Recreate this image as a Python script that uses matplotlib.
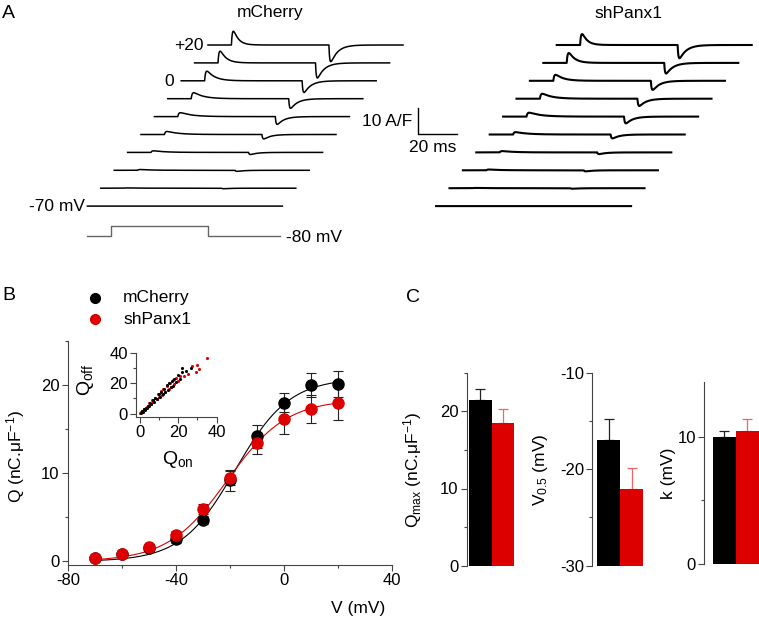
import numpy as np
import matplotlib
matplotlib.use("Agg")
from matplotlib import pyplot as plt
from matplotlib.ticker import MultipleLocator

plt.rcParams['font.family'] = ['Liberation Sans', 'DejaVu Sans']
plt.rcParams['mathtext.fontset'] = 'custom'
plt.rcParams['mathtext.rm'] = 'Liberation Sans'
plt.rcParams['mathtext.it'] = 'Liberation Sans:italic'
plt.rcParams['axes.unicode_minus'] = False

# ---- data ----
groups = ['mCherry', 'shPanx1']
test_mv = [20, 10, 0, -10, -20, -30, -40, -50, -60, -70]

# panel A: transient amplitudes (A/F) per trace, top (+20) to bottom (-70)
on_amp_mch = [5.3, 4.5, 3.7, 2.3, 1.5, 1.15, 0.6, 0.3, 0.1, 0.0]
off_amp_mch = [6.4, 5.8, 4.5, 3.7, 3.0, 1.7, 0.8, 0.4, 0.2, 0.0]
on_amp_sh = [4.2, 3.8, 2.3, 1.9, 1.5, 0.9, 0.5, 0.3, 0.1, 0.0]
off_amp_sh = [5.1, 4.1, 3.5, 2.8, 2.6, 1.5, 0.65, 0.4, 0.2, 0.0]
tau_on = [2.5, 3.0, 4.0, 5.0, 6.0, 6.0, 6.0, 6.0, 6.0, 6.0]   # ms
tau_off = 3.5                                                 # ms
trace_ms = 100
step_on, step_off = 12, 62

# panel B: charge-voltage
volts = [-70, -60, -50, -40, -30, -20, -10, 0, 10, 20]
q_mch = [0.4, 0.8, 1.5, 2.5, 4.7, 9.2, 14.2, 18.0, 20.0, 20.15]
q_mch_err = [0.2, 0.2, 0.3, 0.4, 0.5, 1.2, 1.3, 1.1, 1.4, 1.5]
q_sh = [0.35, 0.8, 1.6, 3.0, 5.95, 9.5, 13.4, 16.2, 17.25, 18.0]
q_sh_err = [0.2, 0.2, 0.3, 0.4, 0.55, 0.8, 1.2, 1.7, 1.6, 2.0]
fit_mch = dict(qmax=20.8, vhalf=-18.0, k=10.0)
fit_sh = dict(qmax=18.4, vhalf=-21.0, k=11.0)

# inset: Qoff vs Qon
qon_mch = [0.5, 1, 1.5, 2, 2.5, 3, 3.5, 4, 5, 5.5, 6, 7, 7.5, 8, 9, 10, 10.5, 11,
           12, 12.5, 13, 14, 14.5, 15, 16, 16.5, 17, 18, 19, 20, 21, 22, 22, 24, 26.4]
qoff_mch = [0.4, 1.5, 1.3, 2.8, 2.4, 3.9, 3.4, 5.3, 5.2, 7.0, 6.3, 9.2, 7.9, 10.5,
            9.8, 13.2, 11.2, 14.0, 12.9, 16.5, 13.9, 18.8, 15.5, 19.8, 17.2, 21.5,
            18.4, 22.5, 21.0, 25.5, 22.8, 27.5, 30.0, 28.0, 30.1]
qon_sh = [0.3, 0.8, 1.3, 2, 3, 3.5, 4.5, 5, 6, 6.5, 7, 8, 9, 9.5, 10, 11, 11.5, 12,
          13, 14, 15, 15.5, 16, 17, 18, 19, 20, 21, 23, 25, 27, 29, 30, 31, 34.7]
qoff_sh = [0.5, 0.9, 1.5, 2.9, 3.4, 4.6, 5.0, 6.8, 6.6, 8.8, 7.6, 10.6, 9.8, 12.6,
           10.9, 14.6, 12.4, 16.2, 14.0, 18.2, 16.0, 20.4, 17.2, 21.8, 19.4, 23.6,
           21.5, 24.6, 24.6, 26.0, 31.0, 27.3, 32.0, 29.0, 36.7]

# panel C: fit parameters (mean, sem)
qmax_mean = [21.4, 18.5]
qmax_sem = [1.5, 1.85]
vhalf_mean = [-17.0, -22.0]
vhalf_sem = [2.2, 2.15]
k_mean = [10.0, 10.47]
k_sem = [0.45, 0.9]

BLACK = '#000000'
RED = '#dd0000'
RED_ERR = '#ee6666'
AXC = '#444444'

W, H = 759, 619
fig = plt.figure(figsize=(W / 100, H / 100), dpi=100)


def add_ax(l, t, r, b):
    return fig.add_axes([l / W, 1 - b / H, (r - l) / W, (b - t) / H])


def ftext(x, y, s, **kw):
    kw.setdefault('fontsize', 12.5)
    kw.setdefault('va', 'center')
    fig.text(x / W, 1 - y / H, s, **kw)


def boltz(v, qmax, vhalf, k):
    return qmax / (1 + np.exp((vhalf - v) / k))


# ---- panel A: gating current traces ----
PX_MS, PX_AF = 1.95, 2.6
axA = add_ax(0, 0, W, 250)
axA.set_xlim(0, W / PX_MS)
axA.set_ylim(0, 250 / PX_AF)
axA.axis('off')

t = np.linspace(0, trace_ms, 3001)


def kinetic(d, tau, rise):
    g = np.where(d > 0, np.exp(-d / tau) - np.exp(-d / rise), 0.0)
    return g / g.max() if g.max() > 0 else g


def make_trace(a_on, a_off, ton):
    return (a_on * kinetic(t - step_on, ton, 0.5)
            - a_off * kinetic(t - step_off, tau_off, 0.4))


dx_ms, dy_af = -13.4 / PX_MS, -17.9 / PX_AF
base_top = (250 - 45) / PX_AF
for x0, on_a, off_a, lw in [(208 / PX_MS, on_amp_mch, off_amp_mch, 1.1),
                             (556.7 / PX_MS, on_amp_sh, off_amp_sh, 1.5)]:
    for i in range(len(test_mv)):
        y = make_trace(on_a[i], off_a[i], tau_on[i])
        axA.plot(x0 + i * dx_ms + t, base_top + i * dy_af + y, color=BLACK, lw=lw)

# voltage protocol
px0 = 208 / PX_MS + 9 * dx_ms
lo, hi = (250 - 236) / PX_AF, (250 - 226) / PX_AF
axA.plot(px0 + np.array([0, step_on, step_on, step_off, step_off, trace_ms - 1]),
         [lo, lo, hi, hi, lo, lo], color='#666666', lw=1.0)

# scale bar
sb_x, sb_y = 417.7 / PX_MS, (250 - 134.3) / PX_AF
axA.plot([sb_x, sb_x, sb_x + 20], [sb_y + 10, sb_y, sb_y], color=BLACK, lw=1.0)

ftext(2, 14, 'A', fontsize=14)
ftext(270, 13, 'mCherry', ha='center')
ftext(628, 13, 'shPanx1', ha='center')
ftext(204, 45, '+20', ha='right')
ftext(174, 81, '0', ha='right')
ftext(85, 206, '-70 mV', ha='right')
ftext(286, 237, '-80 mV', ha='left')
ftext(412, 121, '10 A/F', ha='right')
ftext(433, 148, '20 ms', ha='center')


def style(ax, bottom=True):
    for s in ['top', 'right']:
        ax.spines[s].set_visible(False)
    if not bottom:
        ax.spines['bottom'].set_visible(False)
        ax.tick_params(axis='x', which='both', bottom=False, labelbottom=False)
    for s in ['left', 'bottom']:
        ax.spines[s].set_color(AXC)
        ax.spines[s].set_linewidth(0.8)
    ax.tick_params(which='major', direction='out', length=4, width=0.8,
                   color=AXC, labelsize=12, pad=2)
    ax.tick_params(which='minor', direction='out', length=2.5, width=0.8, color=AXC)


# ---- panel B: Q-V ----
axB = add_ax(68, 341, 392, 565)
axB.set_xlim(-80, 40)
axB.set_ylim(-0.4, 25)
style(axB)
axB.xaxis.set_major_locator(MultipleLocator(40))
axB.xaxis.set_minor_locator(MultipleLocator(20))
axB.yaxis.set_major_locator(MultipleLocator(10))
axB.yaxis.set_minor_locator(MultipleLocator(5))

vv = np.linspace(-70, 20, 200)
axB.plot(vv, boltz(vv, **fit_mch), color=BLACK, lw=0.8, zorder=2)
axB.plot(vv, boltz(vv, **fit_sh), color=RED, lw=0.8, zorder=2)
axB.errorbar(volts, q_mch, yerr=q_mch_err, fmt='none', ecolor='#222222',
             elinewidth=0.8, capsize=3.5, capthick=0.8, zorder=3)
axB.errorbar(volts, q_sh, yerr=q_sh_err, fmt='none', ecolor='#222222',
             elinewidth=0.8, capsize=3.5, capthick=0.8, zorder=3)
axB.plot(volts, q_mch, 'o', color=BLACK, ms=8, zorder=4)
axB.plot(volts, q_sh, 'o', color=RED, ms=8, zorder=5)

ftext(2, 296, 'B', fontsize=14)
legend_ax = add_ax(0, 280, W, 340)
legend_ax.set_xlim(0, W)
legend_ax.set_ylim(340, 280)
legend_ax.axis('off')
legend_ax.plot([95], [298], 'o', color=BLACK, ms=7)
legend_ax.plot([95], [319], 'o', color=RED, ms=7)
ftext(123, 298, groups[0])
ftext(123, 319, groups[1])
ftext(16, 457, 'Q (nC.\u03bcF$^{-1}$)', rotation=90, ha='center')
ftext(385, 608, 'V (mV)', ha='right')

# inset
axI = add_ax(136, 352.7, 216.7, 416.7)
axI.set_xlim(-2, 40)
axI.set_ylim(-2, 40)
style(axI)
axI.tick_params(labelsize=12)
axI.xaxis.set_major_locator(MultipleLocator(20))
axI.xaxis.set_minor_locator(MultipleLocator(10))
axI.yaxis.set_major_locator(MultipleLocator(20))
axI.yaxis.set_minor_locator(MultipleLocator(10))
axI.scatter(qon_mch, qoff_mch, s=5, color=BLACK, linewidths=0, zorder=3)
axI.scatter(qon_sh, qoff_sh, s=5, color=RED, linewidths=0, zorder=2)
ftext(85, 380, 'Q$_{\\mathrm{off}}$', rotation=90, ha='center', fontsize=14)
ftext(178, 459, 'Q$_{\\mathrm{on}}$', ha='center', fontsize=14)

# ---- panel C: bars ----
ftext(406, 298, 'C', fontsize=14)


def bar_panel(box, xlim, ylim, means, sems, major, minor, base):
    ax = add_ax(*box)
    ax.set_xlim(*xlim)
    ax.set_ylim(*ylim)
    style(ax, bottom=False)
    heights = [m - base for m in means]
    ax.bar([0, 1], heights, width=1.0, bottom=base, color=[BLACK, RED], zorder=2)
    for i, c in enumerate(['#222222', RED_ERR]):
        ax.errorbar([i], [means[i]], yerr=[[0], [sems[i]]], fmt='none', ecolor=c,
                    elinewidth=0.9, capsize=3.5, capthick=0.9, zorder=1)
    ax.yaxis.set_major_locator(MultipleLocator(major))
    ax.yaxis.set_minor_locator(MultipleLocator(minor))
    return ax


bar_panel((466.7, 372.7, 514.3, 565.7), (-0.6, 1.5), (0, 25),
          qmax_mean, qmax_sem, 10, 5, 0)
bar_panel((592.3, 372.7, 643.3, 565.7), (-0.72, 1.5), (-30, -10),
          vhalf_mean, vhalf_sem, 10, 5, -30)
bar_panel((704.3, 381.7, 759.0, 564.3), (-0.87, 1.5), (0, 14.3),
          k_mean, k_sem, 10, 5, 0)

ftext(413, 470, 'Q$_{\\mathrm{max}}$ (nC.\u03bcF$^{-1}$)', rotation=90, ha='center')
ftext(540, 470, 'V$_{\\mathrm{0.5}}$ (mV)', rotation=90, ha='center')
ftext(669, 473, 'k (mV)', rotation=90, ha='center')

fig.savefig('out.png', dpi=100)
